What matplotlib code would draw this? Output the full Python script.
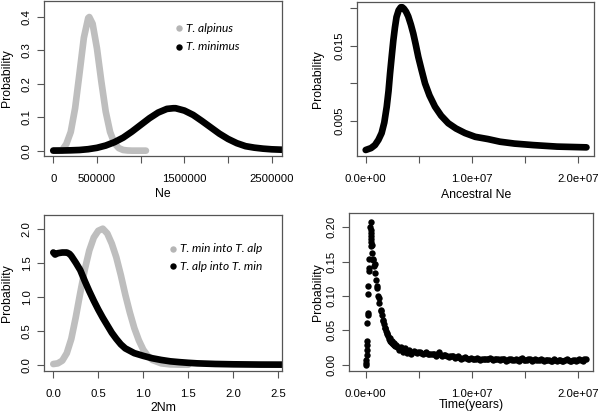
import matplotlib
matplotlib.use("Agg")
import matplotlib.pyplot as plt
from matplotlib.lines import Line2D
import numpy as np

plt.rcParams['font.family'] = ['Liberation Sans', 'DejaVu Sans']

# ---------------- data ----------------
# Panel 1: Ne posterior densities
alp_ne = [0, 50000, 100000, 150000, 200000, 250000, 300000, 350000, 400000, 412000,
          450000, 500000, 550000, 600000, 650000, 700000, 750000, 800000, 850000,
          900000, 950000, 1000000, 1060000]
alp_p = [0, 0, 0.001, 0.020, 0.056, 0.127, 0.231, 0.338, 0.397, 0.400,
         0.380, 0.306, 0.207, 0.117, 0.056, 0.022, 0.0075, 0.002, 0.0005,
         0, 0, 0, 0]
min_ne = [0, 100000, 200000, 300000, 400000, 500000, 600000, 700000, 800000, 900000,
          1000000, 1100000, 1200000, 1300000, 1373000, 1400000, 1500000, 1600000,
          1700000, 1800000, 1900000, 2000000, 2100000, 2200000, 2300000, 2400000,
          2500000, 2600000, 2700000]
min_p = [0.0002, 0.0004, 0.001, 0.002, 0.0044, 0.0085, 0.0153, 0.0254, 0.039, 0.057,
         0.077, 0.097, 0.114, 0.125, 0.127, 0.127, 0.120, 0.107,
         0.089, 0.070, 0.051, 0.035, 0.0224, 0.0134, 0.009, 0.006,
         0.004, 0.003, 0.002]

# Panel 2: ancestral Ne
anc_ne = [0, 0.05e7, 0.087e7, 0.12e7, 0.15e7, 0.175e7, 0.198e7, 0.215e7, 0.229e7, 0.245e7,
          0.26e7, 0.275e7, 0.29e7, 0.31e7, 0.33e7, 0.344e7, 0.36e7, 0.38e7, 0.40e7, 0.425e7,
          0.448e7, 0.47e7, 0.495e7, 0.525e7, 0.558e7, 0.6e7, 0.652e7, 0.71e7, 0.777e7, 0.85e7,
          0.934e7, 1.03e7, 1.15e7, 1.263e7, 1.4e7, 1.577e7, 1.8e7, 2.077e7]
anc_p = [0.00115, 0.0014, 0.0018, 0.0025, 0.0034, 0.0048, 0.0069, 0.0090, 0.0113, 0.0136,
         0.0157, 0.0174, 0.0188, 0.0197, 0.0201, 0.0201, 0.0199, 0.0195, 0.0189, 0.0178,
         0.0166, 0.0152, 0.0135, 0.0118, 0.0100, 0.0084, 0.0069, 0.0057, 0.0047, 0.0040,
         0.0034, 0.0029, 0.0026, 0.00225, 0.0020, 0.0018, 0.0016, 0.0015]

# Panel 3: 2Nm
nm_gray = [0, 0.05, 0.1, 0.15, 0.2, 0.25, 0.3, 0.35, 0.4, 0.45, 0.5, 0.55, 0.6, 0.65,
           0.7, 0.75, 0.8, 0.85, 0.9, 0.95, 1.0, 1.05, 1.1, 1.2, 1.3, 1.4, 1.5]
gray_p = [0.01, 0.02, 0.06, 0.17, 0.38, 0.70, 1.06, 1.40, 1.68, 1.87, 1.97, 2.0, 1.93, 1.78,
          1.58, 1.32, 1.03, 0.77, 0.54, 0.36, 0.22, 0.13, 0.07, 0.02, 0.005, 0.001, 0]
nm_black = [0, 0.02, 0.05, 0.1, 0.15, 0.18, 0.2, 0.25, 0.3, 0.35, 0.4, 0.45, 0.5, 0.55,
            0.6, 0.65, 0.7, 0.75, 0.8, 0.9, 1.0, 1.1, 1.2, 1.3, 1.4, 1.5, 1.6, 1.8, 2.0,
            2.3, 2.6]
black_p = [1.65, 1.62, 1.64, 1.65, 1.65, 1.63, 1.60, 1.50, 1.39, 1.23, 1.08, 0.94, 0.81, 0.69,
           0.58, 0.47, 0.38, 0.30, 0.24, 0.17, 0.13, 0.095, 0.07, 0.05, 0.038, 0.028, 0.02,
           0.011, 0.006, 0.002, 0.001]

# Panel 4: divergence time (units of 1e7 years)
col_t = [0.0, 0.003, 0.005, 0.008, 0.010, 0.012, 0.012, 0.015, 0.018, 0.018, 0.020, 0.022,
         0.028, 0.030, 0.032]
col_p = [0.0, 0.003, 0.0073, 0.0145, 0.0218, 0.029, 0.035, 0.0606, 0.0727, 0.0751, 0.1028,
         0.114, 0.1357, 0.1405, 0.154]
peak_t = [0.047, 0.045, 0.048, 0.050, 0.046, 0.052, 0.054, 0.056]
peak_p = [0.208, 0.200, 0.196, 0.192, 0.187, 0.183, 0.178, 0.174]
dec_t = [0.05, 0.06, 0.07, 0.08, 0.09, 0.10, 0.11, 0.12, 0.13, 0.14, 0.15, 0.16, 0.17, 0.18,
         0.19, 0.20, 0.21, 0.22, 0.23, 0.24, 0.25, 0.26, 0.27, 0.28, 0.29, 0.30, 0.32, 0.34,
         0.36, 0.38, 0.40, 0.42]
dec_p = [0.172, 0.162, 0.152, 0.143, 0.133, 0.123, 0.111, 0.100, 0.089, 0.080, 0.072, 0.065,
         0.059, 0.053, 0.049, 0.045, 0.041, 0.038, 0.035, 0.033, 0.031, 0.030, 0.028, 0.027,
         0.026, 0.025, 0.024, 0.022, 0.021, 0.020, 0.019, 0.019]
dec2_t = [0.065, 0.085, 0.105, 0.125, 0.145, 0.165, 0.185, 0.205, 0.225, 0.245, 0.265, 0.285,
          0.31, 0.33, 0.35, 0.37, 0.39, 0.41, 0.43]
dec2_p = [0.154, 0.146, 0.114, 0.097, 0.078, 0.064, 0.054, 0.046, 0.039, 0.035, 0.031, 0.029,
          0.022, 0.026, 0.019, 0.024, 0.017, 0.022, 0.016]
tail_t = [0.45, 0.48, 0.51, 0.54, 0.57, 0.60, 0.63, 0.66, 0.69, 0.72, 0.75, 0.78, 0.81, 0.84,
          0.87, 0.90, 0.93, 0.96, 0.99, 1.02, 1.05, 1.08, 1.11, 1.14, 1.17, 1.20, 1.23, 1.26,
          1.29, 1.32, 1.35, 1.38, 1.41, 1.44, 1.47, 1.50, 1.53, 1.56, 1.59, 1.62, 1.65, 1.68,
          1.71, 1.74, 1.77, 1.80, 1.83, 1.86, 1.89, 1.92, 1.95, 1.98, 2.01, 2.04, 2.07]
tail_p = [0.020, 0.017, 0.019, 0.016, 0.018, 0.015, 0.016, 0.013, 0.018, 0.013,
          0.014, 0.011, 0.013, 0.010, 0.012, 0.009, 0.011, 0.008, 0.010, 0.008,
          0.010, 0.007, 0.009, 0.008, 0.010, 0.007, 0.009, 0.007, 0.009, 0.006,
          0.008, 0.007, 0.009, 0.006, 0.010, 0.007, 0.008, 0.006, 0.008, 0.007,
          0.009, 0.006, 0.007, 0.005, 0.008, 0.006, 0.007, 0.005, 0.008, 0.006,
          0.007, 0.005, 0.008, 0.006, 0.009]
tail2_t = [0.465, 0.495, 0.525, 0.555, 0.585, 0.615, 0.645, 0.675, 0.705, 0.735,
           0.765, 0.795, 0.825, 0.855, 0.885, 0.915, 0.945, 0.975, 1.005, 1.035,
           1.065, 1.095, 1.125, 1.155, 1.185, 1.215, 1.245, 1.275, 1.305, 1.335,
           1.365, 1.395, 1.425, 1.455, 1.485, 1.515, 1.545, 1.575, 1.605, 1.635,
           1.665, 1.695, 1.725, 1.755, 1.785, 1.815, 1.845, 1.875, 1.905, 1.935,
           1.965, 1.995, 2.025, 2.055]
tail2_p = [0.018, 0.019, 0.017, 0.017, 0.016, 0.016, 0.015, 0.015, 0.014, 0.014,
           0.013, 0.012, 0.012, 0.011, 0.010, 0.010, 0.010, 0.009, 0.009, 0.009,
           0.009, 0.008, 0.009, 0.008, 0.008, 0.008, 0.008, 0.008, 0.008, 0.007,
           0.008, 0.007, 0.007, 0.008, 0.007, 0.007, 0.008, 0.007, 0.007, 0.007,
           0.007, 0.007, 0.007, 0.006, 0.007, 0.007, 0.006, 0.007, 0.007, 0.006,
           0.007, 0.007, 0.007, 0.008]

# ---------------- figure ----------------
W, H = 600, 416
fig = plt.figure(figsize=(W / 100, H / 100), dpi=100)

GRAY = '#bebebe'
FRAME = '#555555'
TICKFS = 8.2
LABFS = 8.8
LW = 4.8


def px_axes(left, top, right, bottom):
    return fig.add_axes([left / W, 1 - bottom / H, (right - left) / W, (bottom - top) / H])


def style(ax):
    for s in ax.spines.values():
        s.set_color(FRAME)
        s.set_linewidth(0.9)
    ax.tick_params(axis='both', direction='out', length=5, width=0.8, color=FRAME,
                   labelsize=TICKFS, labelcolor='black')
    ax.tick_params(axis='x', pad=8.0)
    ax.tick_params(axis='y', pad=4.0)
    for lab in ax.get_yticklabels():
        lab.set_rotation(90)
        lab.set_va('center')


def legend_pts(entries):
    for (xp, yp, col, txt) in entries:
        fig.add_artist(Line2D([xp / W], [1 - yp / H], marker='o', ms=4.6, color=col,
                              mew=0, linestyle='none', transform=fig.transFigure))
        fig.text((xp + 7) / W, 1 - yp / H, txt, fontsize=8.6, style='italic',
                 family=['Lato', 'DejaVu Sans'], ha='left', va='center')


# Panel 1
ax1 = px_axes(44, 1, 282, 156)
ax1.plot(alp_ne, alp_p, color=GRAY, lw=LW, solid_capstyle='round', solid_joinstyle='round')
ax1.plot(min_ne, min_p, color='black', lw=LW, solid_capstyle='round', solid_joinstyle='round')
ax1.set_xlim(-106000, 2617000)
ax1.set_ylim(-0.016, 0.448)
ax1.set_xticks([0, 500000, 1000000, 1500000, 2000000, 2500000])
ax1.set_xticklabels(['0', '500000', '', '1500000', '', '2500000'])
ax1.set_yticks([0, 0.1, 0.2, 0.3, 0.4])
ax1.set_yticklabels(['0.0', '0.1', '0.2', '0.3', '0.4'])
style(ax1)
legend_pts([(179, 28.3, '#b5b5b5', 'T. alpinus'), (179, 46.5, 'black', 'T. minimus')])

# Panel 2
ax2 = px_axes(357.3, 2, 594, 155.7)
ax2.plot(anc_ne, anc_p, color='black', lw=LW, solid_capstyle='round', solid_joinstyle='round')
ax2.set_xlim(-0.079e7, 2.148e7)
ax2.set_ylim(0.000392, 0.0208)
ax2.set_xticks([0, 0.5e7, 1.0e7, 1.5e7, 2.0e7])
ax2.set_xticklabels(['0.0e+00', '', '1.0e+07', '', '2.0e+07'])
ax2.set_yticks([0.005, 0.010, 0.015, 0.020])
ax2.set_yticklabels(['0.005', '', '0.015', ''])
style(ax2)

# Panel 3
ax3 = px_axes(44.3, 214.7, 281.7, 370.7)
ax3.plot(nm_gray, gray_p, color=GRAY, lw=LW, solid_capstyle='round', solid_joinstyle='round')
ax3.plot(nm_black, black_p, color='black', lw=LW, solid_capstyle='round', solid_joinstyle='round')
ax3.set_xlim(-0.1, 2.538)
ax3.set_ylim(-0.088, 2.206)
ax3.set_xticks([0, 0.5, 1.0, 1.5, 2.0, 2.5])
ax3.set_xticklabels(['0.0', '0.5', '1.0', '1.5', '2.0', '2.5'])
ax3.set_yticks([0, 0.5, 1.0, 1.5, 2.0])
ax3.set_yticklabels(['0.0', '0.5', '1.0', '1.5', '2.0'])
style(ax3)
legend_pts([(172.5, 248.7, '#b5b5b5', 'T. min into T. alp'),
            (172.5, 266.3, 'black', 'T. alp into T. min')])

# Panel 4
ax4 = px_axes(349.3, 213, 593.3, 371.3)
for tt, pp in [(col_t, col_p), (peak_t, peak_p), (dec_t, dec_p), (dec2_t, dec2_p),
               (tail_t, tail_p), (tail2_t, tail2_p)]:
    ax4.plot(np.array(tt) * 1e7, pp, 'o', color='black', ms=4.6, mec='black', mew=0)
ax4.set_xlim(-0.154e7, 2.141e7)
ax4.set_ylim(-0.0096, 0.2205)
ax4.set_xticks([0, 0.5e7, 1.0e7, 1.5e7, 2.0e7])
ax4.set_xticklabels(['0.0e+00', '', '1.0e+07', '', '2.0e+07'])
ax4.set_yticks([0, 0.05, 0.10, 0.15, 0.20])
ax4.set_yticklabels(['0.00', '0.05', '0.10', '0.15', '0.20'])
style(ax4)


# Axis labels
def ylabel(xp, yc):
    fig.text(xp / W, 1 - yc / H, 'Probability', rotation=90, ha='center', va='center',
             fontsize=LABFS)


def xlabel(xc, yp, txt):
    fig.text(xc / W, 1 - yp / H, txt, ha='center', va='center', fontsize=LABFS)


ylabel(6.7, 78.5)
ylabel(318.3, 78.8)
ylabel(6.7, 292.7)
ylabel(318.3, 292.2)
xlabel(163, 194, 'Ne')
xlabel(475.7, 195, 'Ancestral Ne')
xlabel(163, 408, '2Nm')
xlabel(471.3, 405, 'Time(years)')

fig.savefig('out.png', dpi=100)
